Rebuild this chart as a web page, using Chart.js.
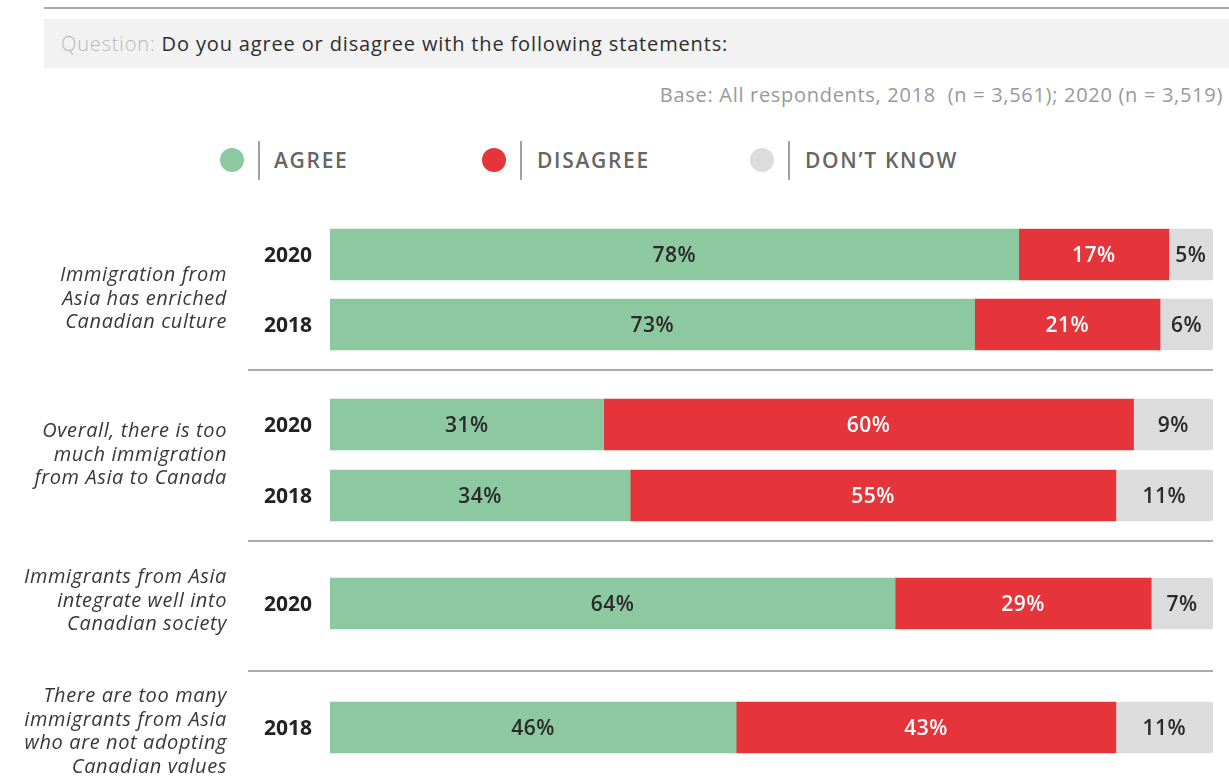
<!DOCTYPE html>
<html>
<head>
<meta charset="utf-8">
<script src="https://cdn.jsdelivr.net/npm/chart.js@4.4.0/dist/chart.umd.min.js"></script>
<style>
  body { margin: 0; background: #fff; font-family: "Open Sans", Lato, sans-serif; }
  #wrap { position: relative; width: 1229px; height: 777px; overflow: hidden; }
  #chart { position: absolute; left: 0; top: 0; }
  .rule { position: absolute; left: 44px; top: 7px; width: 1185px; height: 2px; background: #a9a9a9; }
  .question { position: absolute; left: 44px; top: 19px; width: 1185px; height: 49px; background: #f2f2f2;
              box-sizing: border-box; padding-left: 17px; font-size: 20px; line-height: 49px;
              letter-spacing: 0.85px; color: #2e2e2e; }
  .question span { color: #b8b8b8; font-weight: 300; }
  .base { position: absolute; right: 6px; top: 82px; font-size: 20px; line-height: 26px; color: #999;
          letter-spacing: 0.7px; }
  .dot { position: absolute; top: 148px; width: 24px; height: 24px; border-radius: 50%; }
  .bar { position: absolute; top: 141px; width: 2px; height: 39px; background: #a0a0a0; }
  .lab { position: absolute; top: 146px; font-size: 21px; line-height: 28px; font-weight: 600;
         letter-spacing: 1.7px; color: #666; }
</style>
</head>
<body>
<div id="wrap">
  <div class="rule"></div>
  <div class="question"><span>Question:</span> Do you agree or disagree with the following statements:</div>
  <div class="base">Base: All respondents, 2018&nbsp; (n = 3,561); 2020 (n = 3,519)</div>

  <div class="dot" style="left:220px;background:#8cc9a0"></div>
  <div class="bar" style="left:258px"></div>
  <div class="lab" style="left:274px">AGREE</div>

  <div class="dot" style="left:482px;background:#e5343a"></div>
  <div class="bar" style="left:520px"></div>
  <div class="lab" style="left:537px">DISAGREE</div>

  <div class="dot" style="left:750px;background:#dcdcdc"></div>
  <div class="bar" style="left:788px"></div>
  <div class="lab" style="left:805px">DON’T KNOW</div>

  <canvas id="chart" width="1229" height="777"></canvas>
</div>
<script>
// survey rows, top to bottom
const years = ['2020', '2018', '2020', '2018', '2020', '2018'];
const agree = [78, 73, 31, 34, 64, 46];
const disagree = [17, 21, 60, 55, 29, 43];
const dontKnow = [5, 6, 9, 11, 7, 11];

const statements = [
  ['Immigration from', 'Asia has enriched', 'Canadian culture'],
  ['Overall, there is too', 'much immigration', 'from Asia to Canada'],
  ['Immigrants from Asia', 'integrate well into', 'Canadian society'],
  ['There are too many', 'immigrants from Asia', 'who are not adopting', 'Canadian values']
];

// layout: vertical positions on the y scale (0 = top of page)
const rowY = [254.5, 324.5, 424.5, 495.5, 603.5, 727.5];
const noteY = [299, 455, 601, 732];
const ruleY = [370, 541, 671];

const points = arr => arr.map((v, i) => ({ x: v, y: rowY[i] }));

// statement text + grey separators between groups
const notesPlugin = {
  id: 'notes',
  beforeDatasetsDraw(chart) {
    const ctx = chart.ctx;
    const y = chart.scales.y;
    ctx.save();
    ctx.strokeStyle = '#ababab';
    ctx.lineWidth = 2;
    ruleY.forEach(v => {
      const py = Math.round(y.getPixelForValue(v));
      ctx.beginPath();
      ctx.moveTo(248, py);
      ctx.lineTo(chart.chartArea.right, py);
      ctx.stroke();
    });
    ctx.fillStyle = '#383838';
    ctx.font = 'italic 20px "Open Sans"';
    ctx.letterSpacing = '0.6px';
    ctx.textAlign = 'right';
    ctx.textBaseline = 'middle';
    const lh = 23.5;
    statements.forEach((lines, g) => {
      const c = y.getPixelForValue(noteY[g]);
      lines.forEach((t, k) => {
        ctx.fillText(t, 227, c + (k - (lines.length - 1) / 2) * lh);
      });
    });
    ctx.restore();
  }
};

// percentage inside every segment
const valuesPlugin = {
  id: 'values',
  afterDatasetsDraw(chart) {
    const ctx = chart.ctx;
    ctx.save();
    ctx.font = '600 21px "Open Sans"';
    ctx.letterSpacing = '0.5px';
    ctx.textAlign = 'center';
    ctx.textBaseline = 'middle';
    chart.data.datasets.forEach((ds, di) => {
      ctx.fillStyle = ds.valueColor;
      chart.getDatasetMeta(di).data.forEach((bar, i) => {
        ctx.fillText(ds.data[i].x + '%', (bar.x + bar.base) / 2, bar.y + 2);
      });
    });
    ctx.restore();
  }
};

function draw() {
  new Chart(document.getElementById('chart'), {
    type: 'bar',
    data: {
      datasets: [
        { label: 'Agree', data: points(agree), backgroundColor: '#8cc9a0', valueColor: '#2a2a2a' },
        { label: 'Disagree', data: points(disagree), backgroundColor: '#e5343a', valueColor: '#ffffff' },
        { label: "Don't know", data: points(dontKnow), backgroundColor: '#dcdcdc', valueColor: '#2a2a2a',
          borderRadius: { topRight: 3, bottomRight: 3 } }
      ]
    },
    options: {
      indexAxis: 'y',
      responsive: false,
      animation: false,
      layout: { padding: { left: 0, right: 16, top: 0, bottom: 0 } },
      datasets: { bar: { barThickness: 51, borderSkipped: false } },
      plugins: { legend: { display: false }, tooltip: { enabled: false } },
      scales: {
        x: { stacked: true, min: 0, max: 100, display: false },
        y: {
          type: 'linear',
          stacked: true,
          reverse: true,
          offset: false,
          min: 0,
          max: 777,
          grid: { display: false, drawTicks: false, offset: false },
          border: { display: false },
          afterBuildTicks: s => { s.ticks = rowY.map(v => ({ value: v })); },
          // fixed axis width, and no extra room above/below for the tick text
          afterFit: s => { s.width = 330; s.paddingTop = 0; s.paddingBottom = 0; },
          ticks: {
            autoSkip: false,
            padding: 18,
            labelOffset: 2,
            color: '#222',
            font: { family: '"Open Sans"', size: 21, weight: '700' },
            callback: (v, i) => years[i]
          }
        }
      }
    },
    plugins: [notesPlugin, valuesPlugin]
  });
}

document.fonts.ready.then(draw);
</script>
</body>
</html>
